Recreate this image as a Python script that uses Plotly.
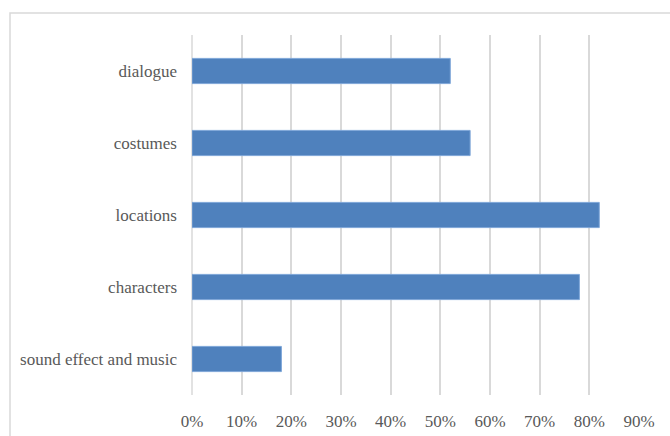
import plotly.graph_objects as go

categories = ["sound effect and music", "characters", "locations", "costumes", "dialogue"]
values = [0.18, 0.78, 0.82, 0.56, 0.52]
tick_vals = [0, 0.1, 0.2, 0.3, 0.4, 0.5, 0.6, 0.7, 0.8, 0.9]
tick_text = ["0%", "10%", "20%", "30%", "40%", "50%", "60%", "70%", "80%", "90%"]

W, H = 670, 436
L, R, T, B = 192, 31, 35, 41
pw, ph = W - L - R, H - T - B

def px_x(x):
    return (x - L) / pw

def px_y(y):
    return (H - B - y) / ph

font_family = "Liberation Serif, serif"
grey = "#595959"

fig = go.Figure(go.Bar(
    x=values, y=categories, orientation="h",
    marker=dict(color="#4f81bd", line=dict(color="#7ea6d8", width=1)),
    width=0.35,
))

fig.update_layout(
    width=W, height=H,
    margin=dict(l=L, r=R, t=T, b=B, pad=0, autoexpand=False),
    paper_bgcolor="white", plot_bgcolor="white",
    showlegend=False,
    xaxis=dict(
        range=[0, 0.9], tickvals=tick_vals, ticktext=tick_text,
        showgrid=True, gridcolor="#d9d9d9", gridwidth=1.5,
        zeroline=False, showline=False, ticks="",
        tickfont=dict(family=font_family, size=17, color=grey),
        ticklabelstandoff=14, automargin=False,
    ),
    yaxis=dict(
        categoryorder="array", categoryarray=categories,
        showgrid=False, zeroline=False, showline=False, ticks="",
        tickfont=dict(family=font_family, size=17, color=grey),
        ticklabelstandoff=14, automargin=False,
    ),
    shapes=[
        dict(type="line", xref="paper", yref="paper", x0=0, x1=0, y0=0, y1=1,
             line=dict(color="#d9d9d9", width=1.5), layer="below"),
        dict(type="rect", xref="paper", yref="paper",
             x0=px_x(10), x1=px_x(690), y0=px_y(470), y1=px_y(13),
             line=dict(color="#d9d9d9", width=1.5), layer="below"),
    ],
)

fig.write_html("out.html")
